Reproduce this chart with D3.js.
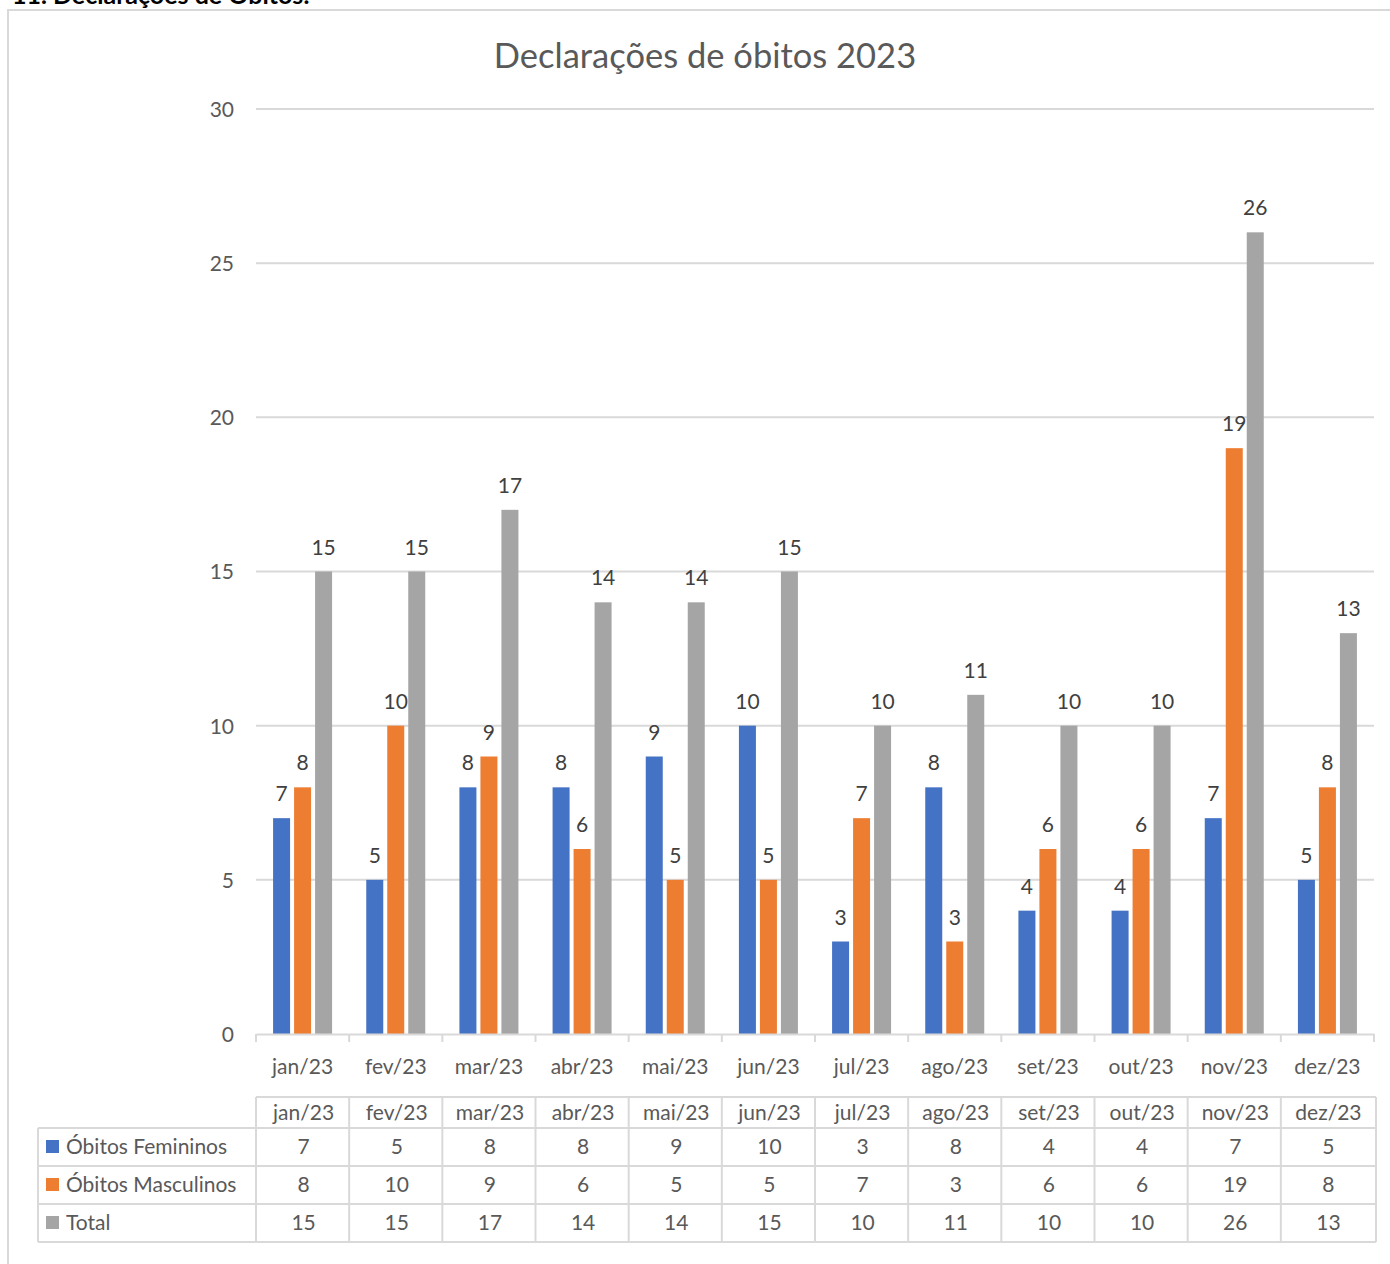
<!DOCTYPE html>
<html><head><meta charset="utf-8">
<script src="https://cdn.jsdelivr.net/npm/d3@7"></script>
<style>body{margin:0;background:#fff;} svg{display:block;}</style>
</head><body>
<script>
const categories = ["jan/23","fev/23","mar/23","abr/23","mai/23","jun/23","jul/23","ago/23","set/23","out/23","nov/23","dez/23"];
const seriesNames = ["Óbitos Femininos","Óbitos Masculinos","Total"];
const feminino = [7,5,8,8,9,10,3,8,4,4,7,5];
const masculino = [8,10,9,6,5,5,7,3,6,6,19,8];
const total = [15,15,17,14,14,15,10,11,10,10,26,13];
const yTicks = [0,5,10,15,20,25,30];
const colors = ["#4472C4","#ED7D31","#A5A5A5"];
const title = "Declarações de óbitos 2023";
const heading = "11. Declarações de Óbitos:";

const series = [feminino, masculino, total];
const W = 1390, H = 1264;
const font = "Lato, 'Open Sans', sans-serif";
const fs = 21;
const svg = d3.select("body").append("svg").attr("width", W).attr("height", H);

// heading (clipped at top, as in the reference)
svg.append("text").attr("x", 12).attr("y", 4)
  .attr("font-family", font).attr("font-weight", "bold").attr("font-size", 25)
  .attr("fill", "#000").text(heading);

// chart frame
svg.append("rect").attr("x", 8).attr("y", 10).attr("width", W).attr("height", H)
  .attr("fill", "none").attr("stroke", "#d9d9d9").attr("stroke-width", 2);

// title
svg.append("text").attr("x", 705).attr("y", 68).attr("text-anchor", "middle")
  .attr("font-family", font).attr("font-size", 34.5).attr("fill", "#595959").text(title);

const x0 = 256, x1 = 1374, yTop = 109, yBot = 1034;
const x = d3.scaleBand().domain(categories).range([x0, x1]);
const y = d3.scaleLinear().domain([0, 30]).range([yBot, yTop]);
const barW = 17, gap = 4;
const xs = d3.scaleBand().domain(seriesNames).range([-(barW*1.5+gap), barW*1.5+gap]).paddingInner(gap/(barW+gap));

// gridlines
svg.append("g").selectAll("line").data(yTicks.filter(d => d > 0)).join("line")
  .attr("x1", x0).attr("x2", x1).attr("y1", d => y(d)).attr("y2", d => y(d))
  .attr("stroke", "#d9d9d9").attr("stroke-width", 2);

// y axis labels
const yAxis = d3.axisLeft(y).tickValues(yTicks).tickSize(0).tickPadding(0);
const gy = svg.append("g").attr("transform", `translate(${x0 - 22},0)`).call(yAxis);
gy.select(".domain").remove();
gy.selectAll("text").attr("font-family", font).attr("font-size", fs).attr("fill", "#595959").attr("dy", "0.35em");

// bars
const groups = svg.append("g").selectAll("g").data(categories).join("g")
  .attr("transform", d => `translate(${x(d) + x.bandwidth()/2},0)`);
seriesNames.forEach((s, si) => {
  groups.append("rect")
    .attr("x", xs(s)).attr("width", xs.bandwidth())
    .attr("y", (d, i) => y(series[si][i]))
    .attr("height", (d, i) => yBot - y(series[si][i]))
    .attr("fill", colors[si]);
  groups.append("text")
    .attr("x", xs(s) + xs.bandwidth()/2)
    .attr("y", (d, i) => y(series[si][i]) - 17)
    .attr("text-anchor", "middle").attr("font-family", font).attr("font-size", fs).attr("fill", "#404040")
    .text((d, i) => series[si][i]);
});

// x axis
const xAxis = d3.axisBottom(x).tickSize(0).tickPadding(0);
const gx = svg.append("g").attr("transform", `translate(0,${yBot})`).call(xAxis);
gx.select(".domain").attr("stroke", "#d9d9d9").attr("stroke-width", 2);
gx.selectAll("text").attr("font-family", font).attr("font-size", fs).attr("fill", "#595959").attr("dy", "0").attr("y", 40);
// category boundary ticks
const bounds = categories.map(c => x(c)).concat([x1]);
svg.append("g").selectAll("line").data(bounds).join("line")
  .attr("x1", d => d).attr("x2", d => d).attr("y1", yBot).attr("y2", yBot + 8)
  .attr("stroke", "#d9d9d9").attr("stroke-width", 2);

// data table
const tRight = 1376, legL = 38;
const rowsY = [1097, 1128, 1166, 1204, 1242];
const tb = svg.append("g").attr("stroke", "#d9d9d9").attr("stroke-width", 2);
tb.append("line").attr("x1", x0).attr("x2", tRight).attr("y1", rowsY[0]).attr("y2", rowsY[0]);
rowsY.slice(1).forEach(yy => tb.append("line").attr("x1", legL).attr("x2", tRight).attr("y1", yy).attr("y2", yy));
tb.append("line").attr("x1", legL).attr("x2", legL).attr("y1", rowsY[1]).attr("y2", rowsY[4]);
bounds.forEach((bx, i) => {
  const xx = i === bounds.length - 1 ? tRight : bx;
  tb.append("line").attr("x1", xx).attr("x2", xx).attr("y1", rowsY[0]).attr("y2", rowsY[4]);
});
svg.append("g").selectAll("text").data(categories).join("text")
  .attr("x", d => x(d) + x.bandwidth()/2 + 1).attr("y", (rowsY[0] + rowsY[1])/2).attr("dy", "0.35em")
  .attr("text-anchor", "middle").attr("font-family", font).attr("font-size", fs).attr("fill", "#595959")
  .text(d => d);
seriesNames.forEach((s, si) => {
  const cy = (rowsY[si+1] + rowsY[si+2]) / 2;
  svg.append("rect").attr("x", 46).attr("y", cy - 7).attr("width", 13).attr("height", 13).attr("fill", colors[si]);
  svg.append("text").attr("x", 66).attr("y", cy).attr("dy", "0.35em")
    .attr("font-family", font).attr("font-size", fs).attr("fill", "#595959").text(s);
  svg.append("g").selectAll("text").data(categories).join("text")
    .attr("x", d => x(d) + x.bandwidth()/2 + 1).attr("y", cy).attr("dy", "0.35em")
    .attr("text-anchor", "middle").attr("font-family", font).attr("font-size", fs).attr("fill", "#595959")
    .text((d, i) => series[si][i]);
});
</script>
</body></html>
